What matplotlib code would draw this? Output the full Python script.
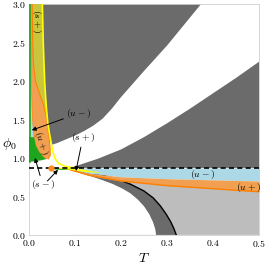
import numpy as np
import matplotlib
matplotlib.use('Agg')
import matplotlib.pyplot as plt

plt.rcParams['mathtext.fontset'] = 'cm'
plt.rcParams['font.family'] = 'serif'
plt.rcParams['font.serif'] = ['DejaVu Serif']

DARK = '#6b6b6b'
LIGHT = '#bdbdbd'
BLUE = '#add8e6'
ORANGE = '#f0a050'
ORANGE_EDGE = '#ff8000'
GREEN = '#1ea51e'
YELLOW = '#ffff00'
OLIVE = '#c9c53c'

phi_dash = 0.87

# (s+) boundary line (yellow), upper-left
yellow_T = [0.029, 0.030, 0.031, 0.0325, 0.034, 0.036, 0.0385, 0.041, 0.045, 0.049, 0.052,
            0.056, 0.064, 0.078, 0.100]
yellow_phi = [3.0, 2.75, 2.5, 2.25, 2.0, 1.8, 1.6, 1.45, 1.3, 1.17, 1.08, 1.0, 0.93, 0.89, 0.87]
# upper-left dark crescent, lower/right edge
cres_T = [0.049, 0.06, 0.08, 0.10, 0.12, 0.14, 0.16, 0.18, 0.20, 0.25, 0.30, 0.374]
cres_phi = [1.17, 1.19, 1.24, 1.29, 1.35, 1.42, 1.51, 1.64, 1.79, 2.13, 2.46, 3.0]

# lower-right dark region, upper edge
lgray_T = [0.09, 0.12, 0.15, 0.20, 0.25, 0.30, 0.35, 0.40, 0.45, 0.50]
lgray_phi = [0.87, 0.93, 0.99, 1.11, 1.27, 1.45, 1.64, 1.84, 2.04, 2.25]

# (u+) band at left
uplus_right_T = [0.007, 0.008, 0.010, 0.014, 0.022, 0.031, 0.037, 0.041, 0.044, 0.046,
                 0.046, 0.042]
uplus_right_phi = [3.0, 2.5, 2.2, 2.0, 1.85, 1.7, 1.55, 1.4, 1.25, 1.12, 1.03, 0.99]
uplus_left_T = [0.037, 0.030, 0.022, 0.015, 0.011, 0.009, 0.007, 0.006, 0.005, 0.004, 0.003]
uplus_left_phi = [0.985, 1.02, 1.08, 1.16, 1.27, 1.4, 1.6, 1.8, 2.0, 2.5, 3.0]

# (s-) green region at left
sminus_T = [0.0, 0.0, 0.011, 0.015, 0.022, 0.030, 0.037, 0.028, 0.012, 0.0]
sminus_phi = [0.95, 1.27, 1.27, 1.16, 1.08, 1.02, 0.985, 0.97, 0.955, 0.95]
# (s-) thin band along the dashed line
sminus2_T = [0.045, 0.070, 0.095, 0.090, 0.065, 0.045]
sminus2_phi = [0.870, 0.868, 0.855, 0.843, 0.845, 0.855]
# (s+) yellow wedge near the crossing
splus2_T = [0.060, 0.090, 0.120, 0.160, 0.125, 0.090, 0.065]
splus2_phi = [0.872, 0.872, 0.845, 0.805, 0.815, 0.845, 0.860]

# (u-) / (u+) bands at right, below the dashed line
band_T = [0.09, 0.13, 0.20, 0.30, 0.40, 0.50]
uplus_top = [0.855, 0.80, 0.755, 0.730, 0.715, 0.700]
uplus_bot = [0.845, 0.775, 0.700, 0.640, 0.600, 0.560]

# lower dark band (inner = white side, outer = black line)
inner_T = [0.095, 0.125, 0.155, 0.182, 0.203, 0.22, 0.236, 0.25, 0.261, 0.269, 0.274, 0.276]
inner_phi = [0.84, 0.78, 0.72, 0.66, 0.60, 0.54, 0.46, 0.37, 0.27, 0.17, 0.08, 0.0]
outer_T = [0.100, 0.15, 0.19, 0.22, 0.25, 0.27, 0.285, 0.298, 0.308, 0.315, 0.320]
outer_phi = [0.855, 0.79, 0.73, 0.66, 0.57, 0.48, 0.38, 0.27, 0.17, 0.08, 0.0]

# special point
pt_T = [0.048]
pt_phi = [0.866]

fig = plt.figure(figsize=(2.66, 2.66), dpi=100)
ax = fig.add_axes([0.109, 0.117, 0.865, 0.868])
ax.set_xlim(0, 0.5)
ax.set_ylim(0, 3.0)

# light gray below the (u+) band
ax.fill(list(band_T) + [0.5, 0.09], list(uplus_bot) + [0.0, 0.0], color=LIGHT, lw=0, zorder=1)
# dark band with white interior
ax.fill(list(inner_T) + list(outer_T[::-1]), list(inner_phi) + list(outer_phi[::-1]),
        color=DARK, lw=0, zorder=2)
ax.fill([0.0] + list(inner_T) + [0.0], [phi_dash] + list(inner_phi) + [0.0],
        color='white', lw=0, zorder=2)
ax.plot(outer_T, outer_phi, color='black', lw=1.0, zorder=2.5)

# light blue (u-) and orange (u+) below dashed line
ax.fill_between(band_T, uplus_top, phi_dash, color=BLUE, lw=0, zorder=3)
ax.fill_between(band_T, uplus_bot, uplus_top, color=ORANGE, lw=0, zorder=3)
ax.plot(band_T, uplus_bot, color=ORANGE_EDGE, lw=1.0, zorder=3)

# lower-right dark region above dashed line
ax.fill(list(lgray_T) + [0.5, 0.09], list(lgray_phi) + [phi_dash, phi_dash],
        color=DARK, lw=0, zorder=1)

# upper-left crescent
ny = 10  # yellow points down to phi = 1.17
ax.fill(list(yellow_T[:ny]) + list(cres_T) + [0.029],
        list(yellow_phi[:ny]) + list(cres_phi) + [3.0], color=DARK, lw=0, zorder=1)

# left strip: light blue (u-)
ax.fill(list(uplus_left_T[4:]) + [0.0, 0.0], list(uplus_left_phi[4:]) + [3.0, 1.27],
        color=BLUE, lw=0, zorder=3)
# olive (s+) between the (u+) band and the yellow line
ax.fill(list(uplus_right_T[:9]) + [0.045] + list(yellow_T[8::-1]),
        list(uplus_right_phi[:9]) + [1.25] + list(yellow_phi[8::-1]),
        color=OLIVE, lw=0, zorder=3)
# (u+) band
ax.fill(list(uplus_right_T) + list(uplus_left_T), list(uplus_right_phi) + list(uplus_left_phi),
        color=ORANGE, lw=0, zorder=4)
ax.plot(uplus_right_T, uplus_right_phi, color=ORANGE_EDGE, lw=0.8, zorder=4)
ax.plot(uplus_left_T, uplus_left_phi, color=ORANGE_EDGE, lw=0.5, zorder=4)
# green (s-)
ax.fill(sminus_T, sminus_phi, color=GREEN, lw=0, zorder=5)
ax.fill(sminus2_T, sminus2_phi, color=GREEN, lw=0, zorder=5)
ax.plot([0.0015, 0.0015], [0.95, 3.0], color=GREEN, lw=1.2, zorder=5)
# yellow (s+)
ax.fill(splus2_T, splus2_phi, color=YELLOW, lw=0, zorder=5)
ax.plot(yellow_T, yellow_phi, color=YELLOW, lw=1.2, zorder=5)

# dashed line and point
ax.plot([0, 0.5], [phi_dash, phi_dash], color='black', lw=1.2, ls=(0, (3, 2)), zorder=6)
ax.plot(pt_T, pt_phi, 'o', color='#ff8c1a', ms=4.5, mec='none', zorder=7)

# annotations
fs = 7
ap = dict(arrowstyle='-|>', color='black', lw=0.7, mutation_scale=6, shrinkA=0, shrinkB=0)
ax.annotate('$(u-)$', xy=(0.006, 1.36), xytext=(0.108, 1.58), fontsize=fs,
            ha='center', va='center', arrowprops=ap, zorder=8)
ax.annotate('$(s+)$', xy=(0.102, 0.83), xytext=(0.117, 1.26), fontsize=fs,
            ha='center', va='center', arrowprops=ap, zorder=8)
ax.annotate('$(s-)$', xy=(0.013, 1.0), xytext=(0.03, 0.65), fontsize=fs,
            ha='center', va='center', arrowprops=ap, zorder=8)
ax.annotate('', xy=(0.063, 0.845), xytext=(0.04, 0.7), arrowprops=ap, zorder=8)
ax.text(0.017, 2.78, '$(s+)$', fontsize=fs, rotation=-90, ha='center', va='center', zorder=8)
ax.text(0.027, 1.2, '$(u+)$', fontsize=fs, rotation=-72, ha='center', va='center', zorder=8)
ax.text(0.378, 0.78, '$(u-)$', fontsize=fs, ha='center', va='center', zorder=8)
ax.text(0.478, 0.62, '$(u+)$', fontsize=fs, ha='center', va='center', zorder=8)

xt = [0.0, 0.1, 0.2, 0.3, 0.4, 0.5]
yt = [0.0, 0.5, 1.0, 1.5, 2.0, 2.5, 3.0]
ax.set_xticks(xt)
ax.set_yticks(yt)
ax.set_xticklabels(['$%.1f$' % v for v in xt], fontsize=7)
ax.set_yticklabels(['$%.1f$' % v for v in yt], fontsize=7)
ax.tick_params(length=0, pad=2)
for s in ax.spines.values():
    s.set_color('#d0d0d0')
    s.set_linewidth(0.6)
ax.set_xlabel('$T$', fontsize=10, labelpad=2)
ax.set_ylabel('$\\phi_0$', fontsize=10, rotation=0, va='center', ha='center')
ax.yaxis.set_label_coords(-0.085, 0.395)

fig.savefig('out.png', dpi=100)
